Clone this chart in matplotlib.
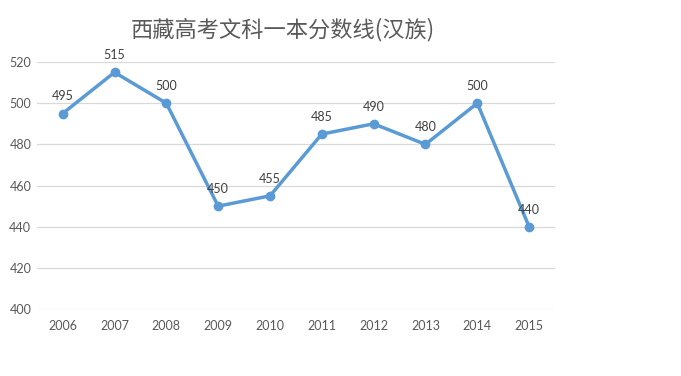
import matplotlib
matplotlib.use("Agg")
import matplotlib.pyplot as plt

years = ["2006", "2007", "2008", "2009", "2010", "2011", "2012", "2013", "2014", "2015"]
scores = [495, 515, 500, 450, 455, 485, 490, 480, 500, 440]
yticks = [400, 420, 440, 460, 480, 500, 520]
title = "西藏高考文科一本分数线(汉族)"

plt.rcParams['font.family'] = ['Lato', 'Noto Sans CJK SC', 'DejaVu Sans']

fig = plt.figure(figsize=(6.81, 3.76), dpi=100)
ax = fig.add_axes([0.054, 0.178, 0.761, 0.657])

color = "#5B9BD5"
x = list(range(len(years)))
ax.plot(x, scores, color=color, linewidth=2.5, marker="o", markersize=6, zorder=3,
        solid_joinstyle="round")
for xi, v in zip(x, scores):
    ax.annotate(str(v), (xi, v), xytext=(0, 8), textcoords="offset points",
                ha="center", va="bottom", fontsize=9, color="#404040")

ax.set_xlim(-0.5, len(years) - 0.5)
ax.set_ylim(400, 520)
ax.set_yticks(yticks)
ax.set_xticks(x)
ax.set_xticklabels(years)
ax.grid(axis="y", color="#D9D9D9", linewidth=0.9)
ax.set_axisbelow(True)
for s in ax.spines.values():
    s.set_visible(False)
ax.tick_params(axis="both", length=0, labelsize=9, labelcolor="#595959")
ax.tick_params(axis="x", pad=8)
ax.tick_params(axis="y", pad=4)

fig.text(0.415, 0.922, title, ha="center", va="center", fontsize=16, color="#595959",
         family=['Noto Sans CJK SC', 'DejaVu Sans'])

fig.savefig("out.png", dpi=100)
